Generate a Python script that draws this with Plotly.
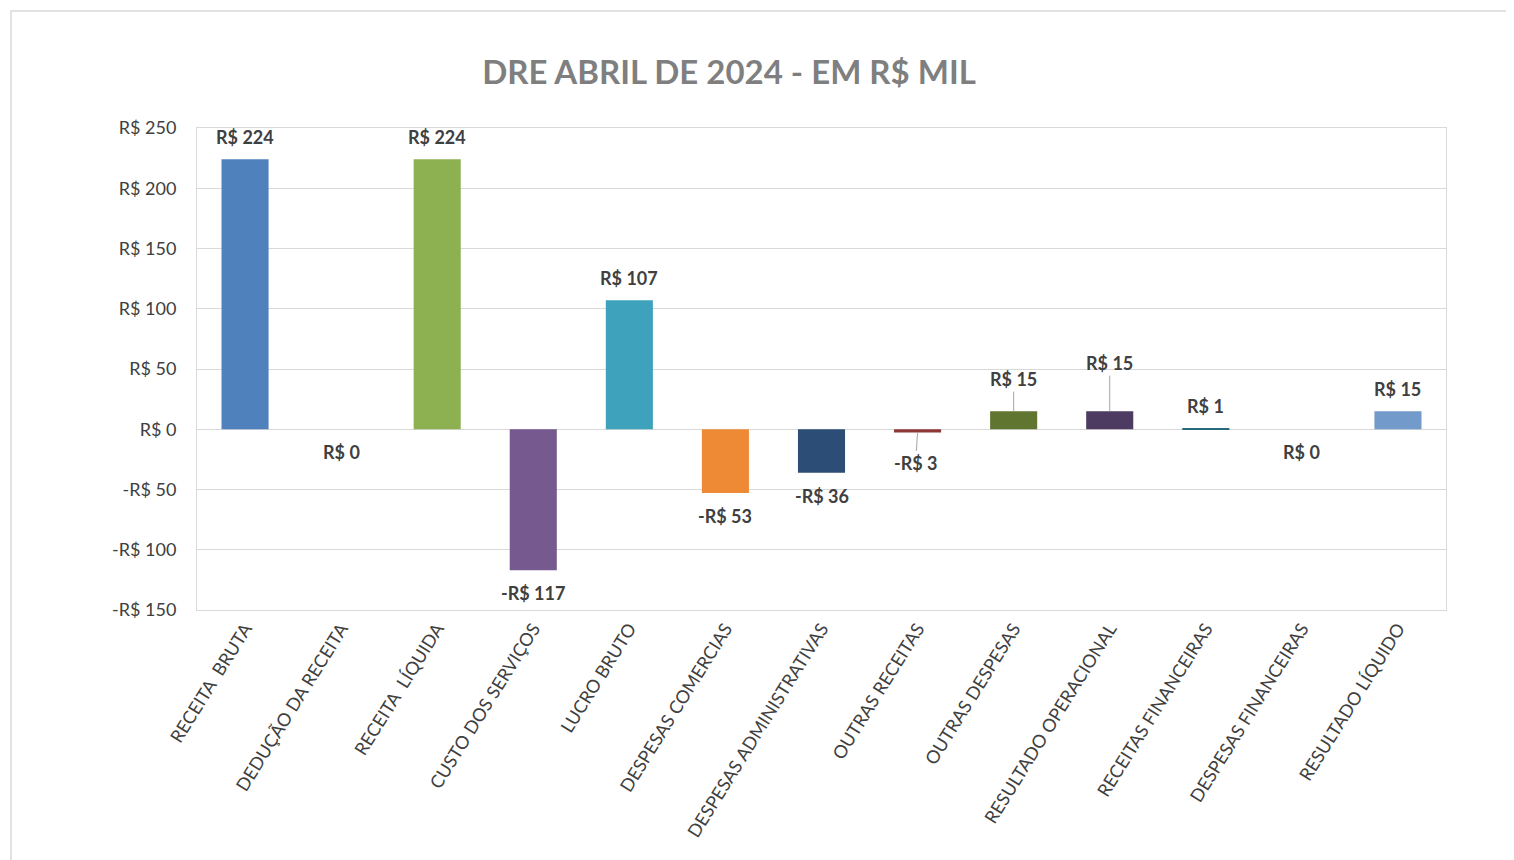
import plotly.graph_objects as go

categories = ["RECEITA  BRUTA", "DEDUÇÃO DA RECEITA", "RECEITA  LÍQUIDA", "CUSTO DOS SERVIÇOS",
              "LUCRO BRUTO", "DESPESAS COMERCIAS", "DESPESAS ADMINISTRATIVAS", "OUTRAS RECEITAS",
              "OUTRAS DESPESAS", "RESULTADO OPERACIONAL", "RECEITAS FINANCEIRAS",
              "DESPESAS FINANCEIRAS", "RESULTADO LÍQUIDO"]
values = [224, 0, 224, -117, 107, -53, -36, -2.6, 15, 15, 1, 0, 15]
colors = ["#4F81BD", "#C0504D", "#8DB150", "#76598F", "#3FA2BD", "#EE8A35", "#2C4D75",
          "#8C3836", "#5F7530", "#4D3B62", "#276A7C", "#B65708", "#729ACA"]
y_ticks = [250, 200, 150, 100, 50, 0, -50, -100, -150]
title_text = "DRE ABRIL DE 2024 - EM R$ MIL"


def brl(v):
    s = f"R$ {abs(v):.0f}"
    return "-" + s if round(v) < 0 else s


OFF = 8  # page body margin
W, H = 1514, 860
# target pixel positions in the screenshot
PX_L, PX_R, PX_T, PX_B = 197, 1446, 128, 610
L, T = PX_L - OFF, PX_T - OFF
R = W + OFF - PX_R
B = H + OFF - PX_B
pw, ph = PX_R - PX_L, PX_B - PX_T


def px_x(x):
    return (x - PX_L) / pw


def px_y(y):
    return (PX_B - y) / ph


fig = go.Figure()
fig.add_trace(go.Bar(x=categories, y=values, marker=dict(color=colors, line=dict(width=0)),
                     hoverinfo="x+y"))

lab_font = dict(family="Lato", size=18, color="#404040")
leader = {"OUTRAS DESPESAS": -32, "RESULTADO OPERACIONAL": -48, "OUTRAS RECEITAS": 31}
annotations = []
for c, v in zip(categories, values):
    txt = brl(v)
    if c in leader:
        annotations.append(dict(x=c, y=v, text=f"<b>{txt}</b>", showarrow=True, arrowhead=0,
                                arrowwidth=1, arrowcolor="#A6A6A6", ax=0 if v > 0 else -2,
                                ay=leader[c], standoff=0, font=lab_font))
    else:
        shift = 22 if v > 0 else -23
        annotations.append(dict(x=c, y=v, text=f"<b>{txt}</b>", showarrow=False, yshift=shift,
                                font=lab_font))

fig.update_layout(
    width=W, height=H,
    margin=dict(l=L, r=R, t=T, b=B),
    paper_bgcolor="white", plot_bgcolor="white",
    bargap=0.51,
    showlegend=False,
    title=dict(text=f"<b>{title_text}</b>", x=px_x(729), xref="paper", xanchor="center",
               y=1 - (72 - OFF) / H, yanchor="middle",
               font=dict(family="Lato", size=33, color="#7F7F7F")),
    font=dict(family="Lato", color="#595959"),
    annotations=annotations,
    xaxis=dict(tickangle=-58, tickfont=dict(family="Lato", size=18, color="#404040"),
               showline=True, linecolor="#D9D9D9", mirror=True, linewidth=1,
               ticks="", showgrid=False),
    yaxis=dict(range=[-150, 250], tickvals=y_ticks, ticktext=[brl(v) for v in y_ticks],
               tickfont=dict(family="Lato", size=18, color="#404040"),
               showgrid=True, gridcolor="#D9D9D9", gridwidth=1,
               zeroline=True, zerolinecolor="#D9D9D9", zerolinewidth=1,
               showline=True, linecolor="#D9D9D9", mirror=True, linewidth=1,
               ticks="", ticklabelstandoff=16),
    shapes=[dict(type="rect", xref="paper", yref="paper",
                 x0=px_x(11), x1=px_x(1540),
                 y0=px_y(900), y1=px_y(11),
                 line=dict(color="#D9D9D9", width=1.5), fillcolor="rgba(0,0,0,0)", layer="below")],
)

fig.write_html("out.html")
